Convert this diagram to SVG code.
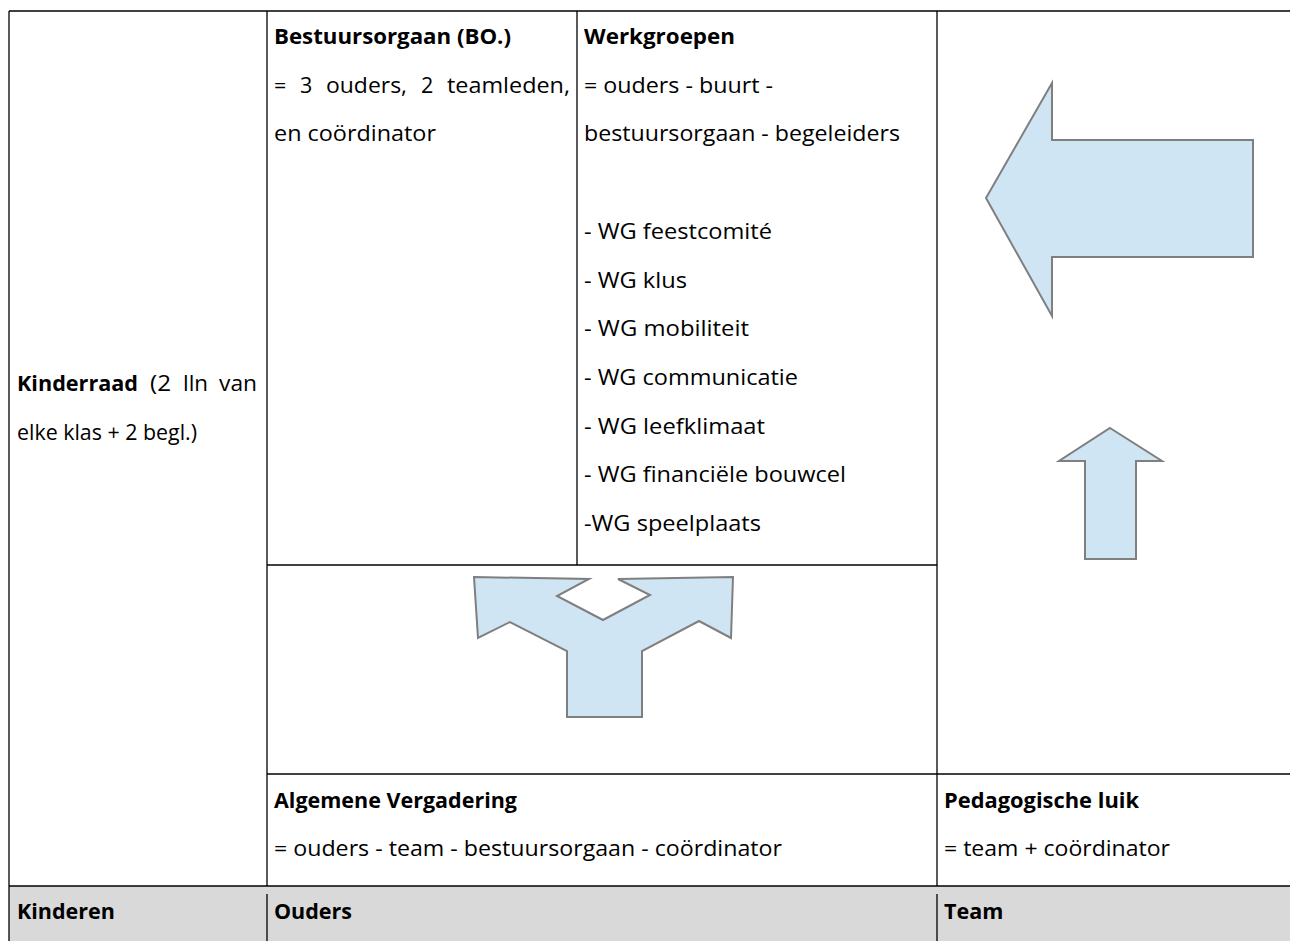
<svg xmlns="http://www.w3.org/2000/svg" width="1290" height="941" viewBox="0 0 1290 941">
<style>
text{font-family:"Open Sans","Noto Sans","Liberation Sans",sans-serif;font-size:21.5px;fill:#000}
.b{font-weight:bold}
.ln{stroke:#000;stroke-width:1.3;fill:none}
.arr{fill:#D0E5F3;stroke:#7F7F7F;stroke-width:2;stroke-linejoin:miter}
</style>
<rect x="0" y="0" width="1290" height="941" fill="#fff"/>
<rect x="9" y="886" width="1281" height="55" fill="#D9D9D9"/>
<g id="grid">
<line class="ln" x1="9" y1="11" x2="1290" y2="11"/>
<line class="ln" x1="9" y1="11" x2="9" y2="941"/>
<line class="ln" x1="267" y1="11" x2="267" y2="886"/>
<line class="ln" x1="577" y1="11" x2="577" y2="565"/>
<line class="ln" x1="937" y1="11" x2="937" y2="886"/>
<line class="ln" x1="267" y1="565" x2="937" y2="565"/>
<line class="ln" x1="267" y1="774" x2="1290" y2="774"/>
<line class="ln" x1="9" y1="886" x2="1290" y2="886"/>
<line class="ln" x1="267" y1="894" x2="267" y2="941"/>
<line class="ln" x1="937" y1="894" x2="937" y2="941"/>
</g>
<g id="kinderraad">
<text y="391"><tspan x="17" class="b" textLength="121" lengthAdjust="spacingAndGlyphs">Kinderraad</tspan><tspan x="150" textLength="21" lengthAdjust="spacingAndGlyphs">(2</tspan><tspan x="183" textLength="25" lengthAdjust="spacingAndGlyphs">lln</tspan><tspan x="219" textLength="38" lengthAdjust="spacingAndGlyphs">van</tspan></text>
<text x="17" y="440" textLength="180" lengthAdjust="spacingAndGlyphs">elke klas + 2 begl.)</text>
</g>
<g id="bestuursorgaan">
<text x="274" y="44" class="b" textLength="237" lengthAdjust="spacingAndGlyphs">Bestuursorgaan (BO.)</text>
<text y="93"><tspan x="274">=</tspan><tspan x="300">3</tspan><tspan x="326" textLength="81" lengthAdjust="spacingAndGlyphs">ouders,</tspan><tspan x="421">2</tspan><tspan x="447" textLength="123" lengthAdjust="spacingAndGlyphs">teamleden,</tspan></text>
<text x="274" y="141" textLength="162" lengthAdjust="spacingAndGlyphs">en coördinator</text>
</g>
<g id="werkgroepen">
<text x="584" y="44" class="b" textLength="151" lengthAdjust="spacingAndGlyphs">Werkgroepen</text>
<text x="584" y="93" textLength="189" lengthAdjust="spacingAndGlyphs">= ouders - buurt -</text>
<text x="584" y="141" textLength="316" lengthAdjust="spacingAndGlyphs">bestuursorgaan - begeleiders</text>
<text x="584" y="239" textLength="188" lengthAdjust="spacingAndGlyphs">- WG feestcomité</text>
<text x="584" y="288" textLength="103" lengthAdjust="spacingAndGlyphs">- WG klus</text>
<text x="584" y="336" textLength="165" lengthAdjust="spacingAndGlyphs">- WG mobiliteit</text>
<text x="584" y="385" textLength="214" lengthAdjust="spacingAndGlyphs">- WG communicatie</text>
<text x="584" y="434" textLength="181" lengthAdjust="spacingAndGlyphs">- WG leefklimaat</text>
<text x="584" y="482" textLength="262" lengthAdjust="spacingAndGlyphs">- WG financiële bouwcel</text>
<text x="584" y="531" textLength="177" lengthAdjust="spacingAndGlyphs">-WG speelplaats</text>
</g>
<g id="algemene-vergadering">
<text x="274" y="808" class="b" textLength="243" lengthAdjust="spacingAndGlyphs">Algemene Vergadering</text>
<text x="274" y="856" textLength="508" lengthAdjust="spacingAndGlyphs">= ouders - team - bestuursorgaan - coördinator</text>
</g>
<g id="pedagogische-luik">
<text x="944" y="808" class="b" textLength="195" lengthAdjust="spacingAndGlyphs">Pedagogische luik</text>
<text x="944" y="856" textLength="226" lengthAdjust="spacingAndGlyphs">= team + coördinator</text>
</g>
<g id="kinderen"><text x="17" y="919" class="b">Kinderen</text></g>
<g id="ouders"><text x="274" y="919" class="b">Ouders</text></g>
<g id="team"><text x="944" y="919" class="b">Team</text></g>
<g id="connectors">
<polygon class="arr" points="986,198 1052,83 1052,140 1253,140 1253,257 1052,257 1052,316"/>
<polygon class="arr" points="1110,428 1162,461 1136,461 1136,559 1085,559 1085,461 1059,461"/>
<polygon class="arr" points="474,577 589,579 557,596 603,620 650,595 618,579 733,577 731,638 699,621 642,651 642,717 567,717 567,651 510,622 478,638"/>
</g>
</svg>
